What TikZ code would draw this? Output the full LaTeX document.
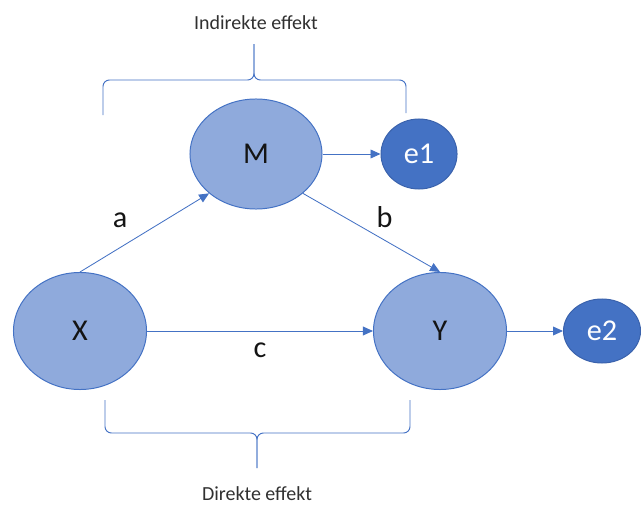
\documentclass[tikz,border=0pt]{standalone}
\usepackage{fontspec}
\setmainfont{Carlito}
\usepackage{tikz}
\usetikzlibrary{arrows.meta,positioning,shapes.geometric}
\definecolor{cLine}{HTML}{4472C4}
\definecolor{cFill}{HTML}{8FAADC}
\definecolor{cErr}{HTML}{4472C4}
\definecolor{cErrLine}{HTML}{3A62AC}
\definecolor{cInk}{HTML}{141414}
\definecolor{cNote}{HTML}{303030}
\tikzset{
  var/.style     = {ellipse, draw=cLine, fill=cFill, line width=0.7pt,
                    inner sep=0pt, text=cInk, font=\fontsize{21.5}{25}\selectfont},
  err/.style     = {var, draw=cErrLine, fill=cErr, text=white},
  eff/.style     = {-{Triangle[length=2.5mm,width=2.2mm]}, draw=cLine, line width=0.6pt},
  coef/.style    = {font=\fontsize{21.5}{25}\selectfont, text=cInk},
  effbrace/.style = {draw=cLine, line width=0.7pt, rounded corners=1.6mm},
  note/.style    = {font=\fontsize{14.2}{17}\selectfont, text=cNote},
}
\begin{document}
\begin{tikzpicture}[x=0.025cm, y=-0.025cm]
  \useasboundingbox (0,0) rectangle (641,506);
  \node[var, minimum width=3.3cm, minimum height=2.75cm] (M) at (256,154) {M};
  \node[err, right=1.45cm of M, minimum width=1.9cm, minimum height=1.75cm] (e1) {e1};
  \node[var, minimum width=3.325cm, minimum height=2.925cm] (X) at (80,331) {X};
  \node[var, minimum width=3.325cm, minimum height=2.925cm] (Y) at (440,331) {Y};
  \node[err, right=1.4cm of Y, minimum width=1.925cm, minimum height=1.6cm] (e2) {e2};
  \draw[eff] (X.north) -- node[coef, above left, xshift=-3mm] {a} (M.220);
  \draw[eff] (M.320) -- node[coef, above right] {b} (Y.north);
  \draw[eff] (X) -- node[coef, below=4.5pt] {c} (Y);
  \draw[eff] (M) -- (e1);
  \draw[eff] (Y) -- (e2);
  \draw[effbrace] (103,115) |- (254,80) -- (254,44);
  \draw[effbrace] (406,113) |- (254,80) -- (254,44);
  \draw[effbrace] (105,400) |- (257,433) -- (257,468);
  \draw[effbrace] (410,400) |- (257,433) -- (257,468);
  \node[note] (ind) at (256,23) {Indirekte effekt};
  \node[note] (dir) at (257,494) {Direkte effekt};
\end{tikzpicture}
\end{document}
